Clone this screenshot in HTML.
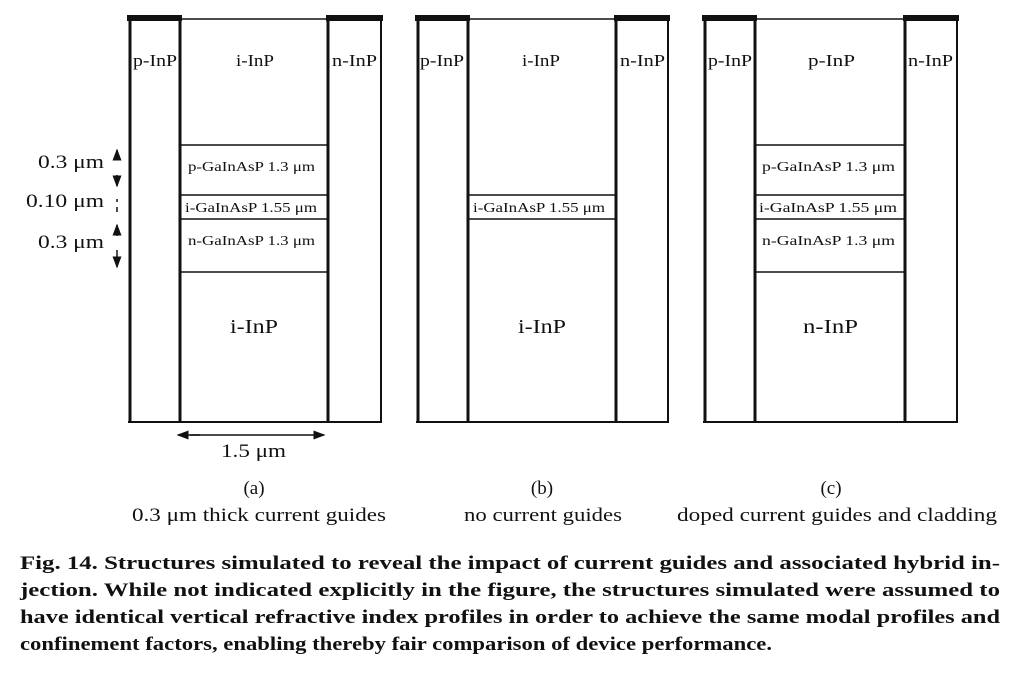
<!DOCTYPE html>
<html><head><meta charset="utf-8"><style>
html,body{margin:0;padding:0;background:#fff;}
svg{display:block;}
text{font-family:"Liberation Serif",serif;fill:#111;}
.cap{font-weight:bold;font-size:18.5px;}
</style></head><body>
<svg width="1013" height="677" viewBox="0 0 1013 677" xmlns="http://www.w3.org/2000/svg">
<defs><marker id="ah" markerWidth="8" markerHeight="8" refX="7" refY="4" orient="auto"><path d="M0,1 L8,4 L0,7 Z" fill="#111"/></marker></defs>

<g stroke="#111" fill="none">
  <line x1="182" y1="19" x2="326" y2="19" stroke-width="1.5"/>
  <rect x="127" y="15" width="55" height="6" fill="#111" stroke="none"/>
  <rect x="326" y="15" width="57" height="6" fill="#111" stroke="none"/>
  <line x1="130" y1="18" x2="130" y2="423" stroke-width="3"/>
  <line x1="180" y1="18" x2="180" y2="423" stroke-width="3"/>
  <line x1="328" y1="18" x2="328" y2="423" stroke-width="3"/>
  <line x1="381" y1="18" x2="381" y2="423" stroke-width="2"/>
  <line x1="128" y1="422" x2="382" y2="422" stroke-width="2"/>
  <line x1="180" y1="145" x2="328" y2="145" stroke-width="1.5"/>
  <line x1="180" y1="195" x2="328" y2="195" stroke-width="1.5"/>
  <line x1="180" y1="219" x2="328" y2="219" stroke-width="1.5"/>
  <line x1="180" y1="272" x2="328" y2="272" stroke-width="1.5"/>
</g>
<text x="133" y="66" font-size="17" textLength="44" lengthAdjust="spacingAndGlyphs">p-InP</text>
<text x="236" y="66" font-size="17" textLength="38" lengthAdjust="spacingAndGlyphs">i-InP</text>
<text x="332" y="66" font-size="17" textLength="45" lengthAdjust="spacingAndGlyphs">n-InP</text>
<text x="188" y="171" font-size="14" textLength="127" lengthAdjust="spacingAndGlyphs">p-GaInAsP 1.3 μm</text>
<text x="185" y="212" font-size="14" textLength="132" lengthAdjust="spacingAndGlyphs">i-GaInAsP 1.55 μm</text>
<text x="188" y="245" font-size="14" textLength="127" lengthAdjust="spacingAndGlyphs">n-GaInAsP 1.3 μm</text>
<text x="230" y="333" font-size="20" textLength="48" lengthAdjust="spacingAndGlyphs">i-InP</text>

<g stroke="#111" stroke-width="1.5">
  <line x1="117" y1="158" x2="117" y2="150" marker-end="url(#ah)"/>
  <line x1="117" y1="175" x2="117" y2="186" marker-end="url(#ah)"/>
  <line x1="117" y1="199" x2="117" y2="202"/>
  <line x1="117" y1="207" x2="117" y2="212"/>
  <line x1="117" y1="236" x2="117" y2="225" marker-end="url(#ah)"/>
  <line x1="117" y1="250" x2="117" y2="267" marker-end="url(#ah)"/>
</g>
<text x="38" y="168" font-size="19" textLength="66" lengthAdjust="spacingAndGlyphs">0.3 μm</text>
<text x="26" y="207" font-size="19" textLength="78" lengthAdjust="spacingAndGlyphs">0.10 μm</text>
<text x="38" y="248" font-size="19" textLength="66" lengthAdjust="spacingAndGlyphs">0.3 μm</text>

<g stroke="#111" stroke-width="1.5">
  <line x1="200" y1="435" x2="178" y2="435" marker-end="url(#ah)"/>
  <line x1="190" y1="435" x2="324" y2="435" marker-end="url(#ah)"/>
</g>
<text x="221" y="457" font-size="19" textLength="65" lengthAdjust="spacingAndGlyphs">1.5 μm</text>

<g stroke="#111" fill="none">
  <line x1="470" y1="19" x2="614" y2="19" stroke-width="1.5"/>
  <rect x="415" y="15" width="55" height="6" fill="#111" stroke="none"/>
  <rect x="614" y="15" width="56" height="6" fill="#111" stroke="none"/>
  <line x1="418" y1="18" x2="418" y2="423" stroke-width="3"/>
  <line x1="468" y1="18" x2="468" y2="423" stroke-width="3"/>
  <line x1="616" y1="18" x2="616" y2="423" stroke-width="3"/>
  <line x1="668" y1="18" x2="668" y2="423" stroke-width="2"/>
  <line x1="416" y1="422" x2="669" y2="422" stroke-width="2"/>
  <line x1="468" y1="195" x2="616" y2="195" stroke-width="1.5"/>
  <line x1="468" y1="219" x2="616" y2="219" stroke-width="1.5"/>
</g>
<text x="420" y="66" font-size="17" textLength="44" lengthAdjust="spacingAndGlyphs">p-InP</text>
<text x="522" y="66" font-size="17" textLength="38" lengthAdjust="spacingAndGlyphs">i-InP</text>
<text x="620" y="66" font-size="17" textLength="45" lengthAdjust="spacingAndGlyphs">n-InP</text>
<text x="473" y="212" font-size="14" textLength="132" lengthAdjust="spacingAndGlyphs">i-GaInAsP 1.55 μm</text>
<text x="518" y="333" font-size="20" textLength="48" lengthAdjust="spacingAndGlyphs">i-InP</text>

<g stroke="#111" fill="none">
  <line x1="757" y1="19" x2="903" y2="19" stroke-width="1.5"/>
  <rect x="702" y="15" width="55" height="6" fill="#111" stroke="none"/>
  <rect x="903" y="15" width="56" height="6" fill="#111" stroke="none"/>
  <line x1="705" y1="18" x2="705" y2="423" stroke-width="3"/>
  <line x1="755" y1="18" x2="755" y2="423" stroke-width="3"/>
  <line x1="905" y1="18" x2="905" y2="423" stroke-width="3"/>
  <line x1="957" y1="18" x2="957" y2="423" stroke-width="2"/>
  <line x1="703" y1="422" x2="958" y2="422" stroke-width="2"/>
  <line x1="755" y1="145" x2="905" y2="145" stroke-width="1.5"/>
  <line x1="755" y1="195" x2="905" y2="195" stroke-width="1.5"/>
  <line x1="755" y1="219" x2="905" y2="219" stroke-width="1.5"/>
  <line x1="755" y1="272" x2="905" y2="272" stroke-width="1.5"/>
</g>
<text x="708" y="66" font-size="17" textLength="44" lengthAdjust="spacingAndGlyphs">p-InP</text>
<text x="808" y="66" font-size="17" textLength="47" lengthAdjust="spacingAndGlyphs">p-InP</text>
<text x="908" y="66" font-size="17" textLength="45" lengthAdjust="spacingAndGlyphs">n-InP</text>
<text x="762" y="171" font-size="14" textLength="133" lengthAdjust="spacingAndGlyphs">p-GaInAsP 1.3 μm</text>
<text x="759" y="212" font-size="14" textLength="138" lengthAdjust="spacingAndGlyphs">i-GaInAsP 1.55 μm</text>
<text x="762" y="245" font-size="14" textLength="133" lengthAdjust="spacingAndGlyphs">n-GaInAsP 1.3 μm</text>
<text x="803" y="333" font-size="20" textLength="55" lengthAdjust="spacingAndGlyphs">n-InP</text>

<text x="254" y="494" font-size="19" text-anchor="middle">(a)</text>
<text x="132" y="521" font-size="19" textLength="254" lengthAdjust="spacingAndGlyphs">0.3 μm thick current guides</text>
<text x="542" y="494" font-size="19" text-anchor="middle">(b)</text>
<text x="464" y="521" font-size="19" textLength="158" lengthAdjust="spacingAndGlyphs">no current guides</text>
<text x="831" y="494" font-size="19" text-anchor="middle">(c)</text>
<text x="677" y="521" font-size="19" textLength="320" lengthAdjust="spacingAndGlyphs">doped current guides and cladding</text>

<g>
<text class="cap" x="20" y="569" textLength="980" lengthAdjust="spacingAndGlyphs">Fig. 14.   Structures simulated to reveal the impact of current guides and associated hybrid in-</text>
<text class="cap" x="20" y="596" textLength="980" lengthAdjust="spacingAndGlyphs">jection. While not indicated explicitly in the figure, the structures simulated were assumed to</text>
<text class="cap" x="20" y="623" textLength="980" lengthAdjust="spacingAndGlyphs">have identical vertical refractive index profiles in order to achieve the same modal profiles and</text>
<text class="cap" x="20" y="650" textLength="752" lengthAdjust="spacingAndGlyphs">confinement factors, enabling thereby fair comparison of device performance.</text>
</g>
</svg>
</body></html>
